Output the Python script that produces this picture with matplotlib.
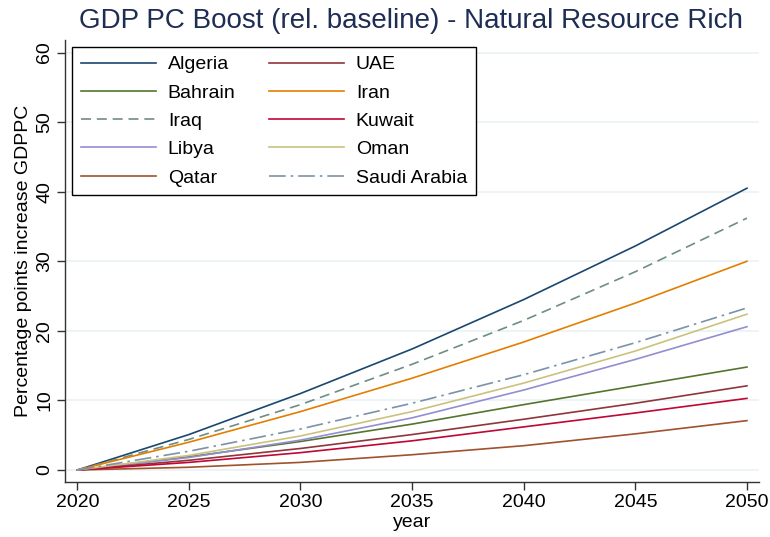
import matplotlib
matplotlib.use('Agg')
import matplotlib.pyplot as plt

years = [2020, 2025, 2030, 2035, 2040, 2045, 2050]

countries = ['Algeria', 'Bahrain', 'Iraq', 'Libya', 'Qatar',
             'UAE', 'Iran', 'Kuwait', 'Oman', 'Saudi Arabia']

algeria = [0, 5.1, 11.0, 17.4, 24.5, 32.2, 40.5]
bahrain = [0, 1.9, 4.1, 6.6, 9.4, 12.1, 14.8]
iraq = [0, 4.4, 9.4, 15.2, 21.5, 28.5, 36.2]
libya = [0, 1.8, 4.3, 7.5, 11.5, 15.9, 20.6]
qatar = [0, 0.4, 1.1, 2.2, 3.5, 5.2, 7.1]
uae = [0, 1.4, 3.1, 5.1, 7.3, 9.6, 12.1]
iran = [0, 4.0, 8.4, 13.2, 18.4, 24.0, 30.0]
kuwait = [0, 1.1, 2.5, 4.2, 6.2, 8.2, 10.3]
oman = [0, 2.1, 4.9, 8.4, 12.5, 17.1, 22.4]
saudi = [0, 2.7, 5.9, 9.6, 13.7, 18.3, 23.3]

series = [algeria, bahrain, iraq, libya, qatar, uae, iran, kuwait, oman, saudi]

colors = ['#1a476f', '#55752f', '#6e8e84', '#938dd2', '#a0522d',
          '#90353b', '#e37e00', '#c10534', '#cac27e', '#7b92a8']
styles = ['-', '-', (0, (6, 3.5)), '-', '-', '-', '-', '-', '-', (0, (10, 3, 1.5, 3))]

plt.rcParams['font.family'] = ['Liberation Sans', 'DejaVu Sans']

fig = plt.figure(figsize=(7.7, 5.37), dpi=100)
ax = fig.add_axes([0.0844, 0.1024, 0.9013, 0.8231])

for name, vals, c, ls in zip(countries, series, colors, styles):
    ax.plot(years, vals, color=c, linestyle=ls, linewidth=1.2, label=name)

ax.set_xlim(2019.45, 2050.54)
ax.set_ylim(-1.72, 61.8)
ax.set_xticks(range(2020, 2051, 5))
ax.set_yticks(range(0, 61, 10))
ax.tick_params(axis='both', labelsize=14, direction='out', length=5.5, width=1,
               color='#333333', pad=3)
for lab in ax.get_yticklabels():
    lab.set_rotation(90)
    lab.set_va('center')

ax.grid(axis='y', color='#eaf2f3', linewidth=1.2)
ax.set_axisbelow(True)
for side in ['top', 'right']:
    ax.spines[side].set_visible(False)
for side in ['left', 'bottom']:
    ax.spines[side].set_linewidth(1)
    ax.spines[side].set_color('#333333')

ax.set_xlabel('year', fontsize=14, labelpad=2)
ax.set_ylabel('Percentage points increase GDPPC', fontsize=14, labelpad=3)
fig.text(0.534, 0.948, 'GDP PC Boost (rel. baseline) - Natural Resource Rich',
         fontsize=20, color='#1e2d53', ha='center', va='baseline')

leg = ax.legend(loc='upper left', ncol=2, fontsize=14, frameon=True, fancybox=False,
                edgecolor='black', handlelength=3.86, handletextpad=0.62,
                columnspacing=1.7, labelspacing=0.55, borderpad=0.45,
                borderaxespad=0.36, framealpha=1)
leg.get_frame().set_linewidth(1)

fig.savefig('out.png', dpi=100)
